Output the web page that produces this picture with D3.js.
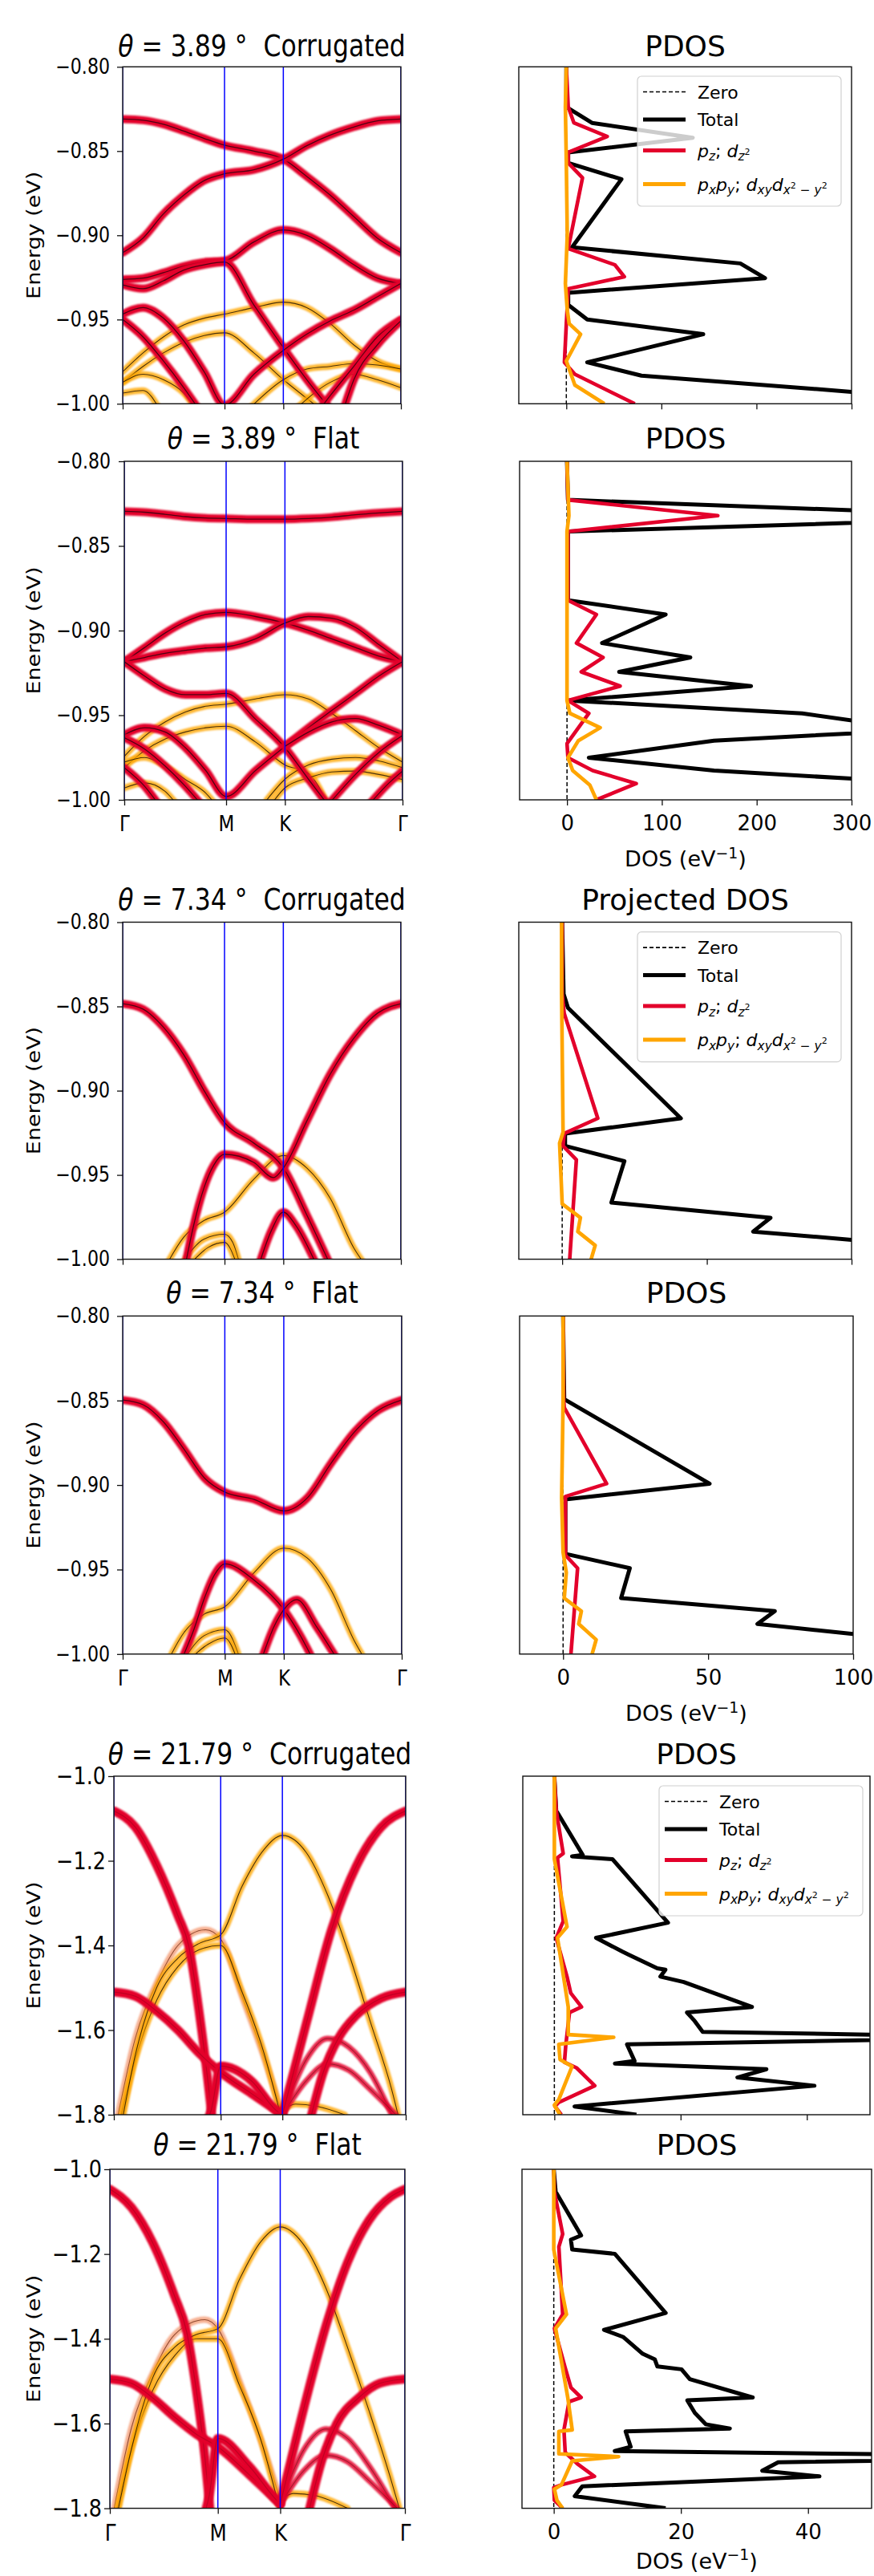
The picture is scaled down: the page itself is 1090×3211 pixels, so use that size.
<!DOCTYPE html>
<html><head><meta charset="utf-8">
<script src="https://cdn.jsdelivr.net/npm/d3@7"></script>
<style>body{margin:0;background:#fff} text{font-family:"DejaVu Sans",sans-serif;fill:#000}</style>
</head><body><script>
// ---------------- DATA ----------------
const kTicks=[0,0.5,0.7887,1.366];
const kLabels=["Γ","M","K","Γ"];
const thetas=["3.89","3.89","7.34","7.34","21.79","21.79"];
const structures=["Corrugated","Flat","Corrugated","Flat","Corrugated","Flat"];
const pdosTitles=["PDOS","PDOS","Projected DOS","PDOS","PDOS","PDOS"];
const eTicksSmall=[-1.0,-0.95,-0.9,-0.85,-0.8];
const eTicksLarge=[-1.8,-1.6,-1.4,-1.2,-1.0];
const dosTicks389=[0,100,200,300];
const dosTicks734=[0,50,100];
const dosTicks2179=[0,20,40];
const legendNames=["Zero","Total","pz","pxpy"];

// bands: c = orbital character (r: pz/dz2, o: px py/dxy dx2-y2, s: mixed), p = [k, E(eV)]
const bands389c=[
 {c:"o",p:[[0,-0.9810],[0.1,-0.9698],[0.2,-0.9603],[0.3,-0.9532],[0.4,-0.9492],[0.5,-0.9468],[0.644,-0.9429],[0.789,-0.9397],[0.904,-0.9429],[1.019,-0.9524],[1.135,-0.9651],[1.25,-0.9746],[1.366,-0.9794]]},
 {c:"o",p:[[0,-0.9873],[0.1,-0.9778],[0.2,-0.9698],[0.3,-0.9635],[0.4,-0.9595],[0.5,-0.9579],[0.644,-0.9698],[0.789,-0.9857],[0.904,-0.9968],[1.0,-1.006]]},
 {c:"o",p:[[0.62,-1.003],[0.789,-0.9857],[0.904,-0.9794],[1.019,-0.9778],[1.135,-0.9762],[1.25,-0.977],[1.366,-0.9794]]},
 {c:"o",p:[[0.85,-1.003],[1.019,-0.9873],[1.135,-0.9825],[1.25,-0.9857],[1.366,-0.9905]]},
 {c:"o",p:[[0,-0.9873],[0.1,-0.9825],[0.2,-0.9857],[0.3,-0.9937],[0.36,-1.003]]},
 {c:"o",p:[[0,-0.9937],[0.1,-0.9921],[0.18,-1.003]]},
 {c:"r",p:[[0,-0.8310],[0.1,-0.8317],[0.2,-0.8341],[0.3,-0.8381],[0.4,-0.8425],[0.5,-0.8465],[0.644,-0.8500],[0.789,-0.8548],[0.904,-0.8651],[1.019,-0.8762],[1.135,-0.8889],[1.25,-0.9016],[1.366,-0.9103]]},
 {c:"r",p:[[0,-0.9103],[0.1,-0.9016],[0.2,-0.8873],[0.3,-0.8762],[0.4,-0.8675],[0.5,-0.8635],[0.644,-0.8611],[0.789,-0.8548],[0.904,-0.8468],[1.019,-0.8405],[1.135,-0.8357],[1.25,-0.8321],[1.366,-0.8310]]},
 {c:"r",p:[[0,-0.9262],[0.1,-0.9254],[0.2,-0.9222],[0.3,-0.9183],[0.4,-0.9159],[0.5,-0.9151],[0.644,-0.9040],[0.789,-0.8968],[0.904,-0.9000],[1.019,-0.9079],[1.135,-0.9175],[1.25,-0.9254],[1.366,-0.9286]]},
 {c:"r",p:[[0,-0.9294],[0.1,-0.9317],[0.2,-0.9270],[0.3,-0.9206],[0.4,-0.9175],[0.5,-0.9159],[0.644,-0.9413],[0.789,-0.9667],[0.904,-0.9857],[1.019,-1.0032]]},
 {c:"r",p:[[0,-0.9468],[0.1,-0.9429],[0.2,-0.9492],[0.3,-0.9627],[0.4,-0.9810],[0.5,-1.0008],[0.644,-0.9825],[0.789,-0.9683],[0.904,-0.9587],[1.019,-0.9508],[1.135,-0.9444],[1.25,-0.9365],[1.366,-0.9286]]},
 {c:"r",p:[[0,-0.9500],[0.1,-0.9603],[0.2,-0.9746],[0.3,-0.9905],[0.4,-1.0079]]},
 {c:"r",p:[[0.97,-1.003],[1.019,-0.9952],[1.135,-0.9778],[1.25,-0.9603],[1.366,-0.9500]]},
 {c:"r",p:[[1.08,-1.005],[1.135,-0.9857],[1.25,-0.9651],[1.366,-0.9508]]}
];
const bands389f=[
 {c:"o",p:[[0,-0.9743],[0.1,-0.9624],[0.2,-0.9540],[0.3,-0.9481],[0.4,-0.9447],[0.5,-0.9435],[0.644,-0.9404],[0.789,-0.9379],[0.904,-0.9404],[1.019,-0.9489],[1.135,-0.9591],[1.25,-0.9692],[1.366,-0.9777]]},
 {c:"o",p:[[0,-0.9810],[0.1,-0.9709],[0.2,-0.9641],[0.3,-0.9599],[0.4,-0.9574],[0.5,-0.9565],[0.644,-0.9658],[0.789,-0.9794],[0.904,-0.9844],[1.0,-1.003]]},
 {c:"o",p:[[0.7,-1.0],[0.789,-0.9878],[0.904,-0.9794],[1.019,-0.9760],[1.135,-0.9750],[1.25,-0.9770],[1.366,-0.9810]]},
 {c:"o",p:[[0.72,-1.003],[0.789,-0.9929],[0.904,-0.9870],[1.019,-0.9835],[1.135,-0.9830],[1.25,-0.9850],[1.366,-0.9880]]},
 {c:"o",p:[[0,-0.9777],[0.1,-0.9750],[0.2,-0.9800],[0.3,-0.9880],[0.4,-0.9960],[0.45,-1.003]]},
 {c:"o",p:[[0,-0.9930],[0.1,-0.9900],[0.2,-0.9950],[0.26,-1.003]]},
 {c:"r",p:[[0,-0.8296],[0.1,-0.8301],[0.2,-0.8313],[0.3,-0.8327],[0.4,-0.8335],[0.5,-0.8338],[0.644,-0.8342],[0.789,-0.8342],[0.904,-0.8338],[1.019,-0.8330],[1.135,-0.8316],[1.25,-0.8305],[1.366,-0.8296]]},
 {c:"r",p:[[0,-0.9184],[0.1,-0.9100],[0.2,-0.9015],[0.3,-0.8948],[0.4,-0.8905],[0.5,-0.8893],[0.644,-0.8917],[0.789,-0.8956],[0.904,-0.8998],[1.019,-0.9049],[1.135,-0.9100],[1.25,-0.9151],[1.366,-0.9184]]},
 {c:"r",p:[[0,-0.9184],[0.1,-0.9159],[0.2,-0.9134],[0.3,-0.9117],[0.4,-0.9103],[0.5,-0.9096],[0.644,-0.9049],[0.789,-0.8956],[0.904,-0.8917],[1.019,-0.8927],[1.135,-0.8981],[1.25,-0.9083],[1.366,-0.9184]]},
 {c:"r",p:[[0,-0.9184],[0.1,-0.9269],[0.2,-0.9345],[0.3,-0.9379],[0.4,-0.9379],[0.5,-0.9371],[0.644,-0.9523],[0.789,-0.9692],[0.904,-0.9878],[1.0,-1.003]]},
 {c:"r",p:[[0,-0.9616],[0.1,-0.9574],[0.2,-0.9599],[0.3,-0.9692],[0.4,-0.9827],[0.5,-0.9980],[0.644,-0.9827],[0.789,-0.9684],[0.904,-0.9574],[1.019,-0.9472],[1.135,-0.9371],[1.25,-0.9269],[1.366,-0.9184]]},
 {c:"r",p:[[0.789,-0.9684],[0.904,-0.9600],[1.019,-0.9540],[1.135,-0.9520],[1.25,-0.9560],[1.366,-0.9616]]},
 {c:"r",p:[[0,-0.9633],[0.1,-0.9700],[0.2,-0.9800],[0.3,-0.9920],[0.38,-1.003]]},
 {c:"r",p:[[0,-0.9810],[0.1,-0.9920],[0.17,-1.003]]},
 {c:"r",p:[[1.0,-1.003],[1.135,-0.985],[1.25,-0.972],[1.366,-0.962]]},
 {c:"r",p:[[1.2,-1.003],[1.3,-0.990],[1.366,-0.983]]}
];
const bands734c=[
 {c:"o",p:[[0.2,-1.0066],[0.3,-0.9869],[0.4,-0.9770],[0.5,-0.9721],[0.644,-0.9525],[0.789,-0.9385],[0.904,-0.9459],[1.019,-0.9639],[1.135,-0.9934],[1.2,-1.005]]},
 {c:"o",p:[[0.29,-1.003],[0.4,-0.988],[0.5,-0.9852],[0.54,-0.990],[0.575,-1.003]]},
 {c:"o",p:[[0.33,-1.003],[0.42,-0.993],[0.5,-0.9900],[0.56,-1.003]]},
 {c:"r",p:[[0,-0.8484],[0.1,-0.8516],[0.2,-0.8623],[0.3,-0.8787],[0.4,-0.9000],[0.5,-0.9189],[0.644,-0.9311],[0.789,-0.9459],[0.904,-0.9738],[1.019,-1.0033]]},
 {c:"r",p:[[0.31,-1.002],[0.3415,-0.9836],[0.4,-0.9574],[0.4466,-0.9443],[0.5,-0.9377],[0.644,-0.9426],[0.74,-0.9516],[0.789,-0.9459],[0.904,-0.9180],[1.019,-0.8902],[1.135,-0.8689],[1.25,-0.8541],[1.366,-0.8484]]},
 {c:"r",p:[[0.67,-1.003],[0.73,-0.983],[0.789,-0.9721],[0.85,-0.980],[0.95,-1.003]]}
];
const bands734f=[
 {c:"o",p:[[0.2,-1.0093],[0.3,-0.9873],[0.4,-0.9763],[0.5,-0.9720],[0.644,-0.9517],[0.789,-0.9373],[0.904,-0.9432],[1.019,-0.9619],[1.135,-0.9924],[1.2,-1.006]]},
 {c:"o",p:[[0.30,-1.003],[0.4,-0.989],[0.5,-0.9856],[0.575,-1.003]]},
 {c:"o",p:[[0.33,-1.003],[0.42,-0.994],[0.5,-0.9905],[0.56,-1.003]]},
 {c:"r",p:[[0,-0.8497],[0.1,-0.8525],[0.2,-0.8627],[0.3,-0.8788],[0.4,-0.8958],[0.5,-0.9042],[0.644,-0.9085],[0.789,-0.9153],[0.904,-0.9076],[1.019,-0.8873],[1.135,-0.8686],[1.25,-0.8559],[1.366,-0.8497]]},
 {c:"r",p:[[0.29,-1.003],[0.35,-0.985],[0.4,-0.967],[0.45,-0.953],[0.5,-0.9466],[0.644,-0.9563],[0.789,-0.9737],[0.9,-0.9958],[0.93,-1.003]]},
 {c:"r",p:[[0.68,-1.003],[0.74,-0.984],[0.789,-0.9737],[0.852,-0.9678],[0.95,-0.984],[1.05,-1.003]]}
];
const bands2179c=[
 {c:"s",p:[[0.02,-1.80],[0.1,-1.62],[0.2,-1.49],[0.3,-1.40],[0.43,-1.363],[0.5,-1.385],[0.6,-1.52],[0.7,-1.66],[0.789,-1.80]]},
 {c:"o",p:[[0.035,-1.80],[0.1,-1.67],[0.2,-1.53],[0.3,-1.45],[0.4,-1.41],[0.5,-1.40],[0.6,-1.51],[0.7,-1.65],[0.78,-1.80]]},
 {c:"o",p:[[0.044,-1.80],[0.1,-1.66],[0.2,-1.50],[0.3,-1.43],[0.4,-1.395],[0.5,-1.375],[0.6,-1.26],[0.7,-1.175],[0.789,-1.14],[0.9,-1.18],[1.0,-1.28],[1.1,-1.42],[1.2,-1.58],[1.3,-1.74],[1.33,-1.80]]},
 {c:"o",p:[[0.789,-1.79],[0.85,-1.775],[0.95,-1.78],[1.08,-1.80]]},
 {c:"r",p:[[0,-1.082],[0.1,-1.12],[0.2,-1.21],[0.3,-1.33],[0.35,-1.40],[0.4,-1.56],[0.44,-1.72],[0.46,-1.81]]},
 {c:"r",p:[[0,-1.51],[0.1,-1.52],[0.2,-1.555],[0.3,-1.60],[0.4,-1.655],[0.5,-1.70],[0.644,-1.75],[0.789,-1.80]]},
 {c:"r",p:[[0.44,-1.81],[0.455,-1.79],[0.5,-1.685],[0.644,-1.72],[0.76,-1.79],[0.789,-1.80]]},
 {c:"r",p:[[0.789,-1.80],[0.904,-1.578],[1.019,-1.362],[1.135,-1.212],[1.25,-1.121],[1.366,-1.082]]},
 {c:"r",p:[[0.92,-1.81],[0.98,-1.70],[1.05,-1.62],[1.135,-1.565],[1.25,-1.525],[1.366,-1.51]]},
 {c:"t",p:[[0.79,-1.80],[0.9,-1.67],[1.0,-1.62],[1.1,-1.64],[1.2,-1.70],[1.3,-1.80]]},
 {c:"t",p:[[0.79,-1.80],[0.9,-1.72],[1.0,-1.68],[1.1,-1.695],[1.2,-1.74],[1.32,-1.80]]}
];
const bands2179f=[
 {c:"s",p:[[0.02,-1.80],[0.1,-1.61],[0.2,-1.48],[0.3,-1.39],[0.44,-1.355],[0.5,-1.376],[0.6,-1.50],[0.7,-1.64],[0.789,-1.78]]},
 {c:"o",p:[[0.035,-1.80],[0.1,-1.66],[0.2,-1.52],[0.3,-1.44],[0.4,-1.40],[0.5,-1.40],[0.6,-1.51],[0.7,-1.64],[0.78,-1.79]]},
 {c:"o",p:[[0.04,-1.80],[0.1,-1.66],[0.2,-1.49],[0.3,-1.42],[0.4,-1.39],[0.5,-1.376],[0.6,-1.26],[0.7,-1.17],[0.789,-1.136],[0.9,-1.18],[1.0,-1.28],[1.1,-1.42],[1.2,-1.57],[1.3,-1.73],[1.34,-1.80]]},
 {c:"o",p:[[0.789,-1.78],[0.85,-1.765],[0.95,-1.77],[1.1,-1.80]]},
 {c:"r",p:[[0,-1.047],[0.1,-1.09],[0.2,-1.175],[0.3,-1.30],[0.355,-1.382],[0.4,-1.52],[0.44,-1.68],[0.465,-1.81]]},
 {c:"r",p:[[0,-1.495],[0.1,-1.505],[0.2,-1.54],[0.3,-1.585],[0.4,-1.625],[0.5,-1.655],[0.644,-1.72],[0.789,-1.79]]},
 {c:"r",p:[[0.44,-1.81],[0.46,-1.77],[0.5,-1.635],[0.644,-1.70],[0.77,-1.78],[0.789,-1.79]]},
 {c:"r",p:[[0.789,-1.79],[0.9,-1.56],[1.0,-1.37],[1.1,-1.22],[1.2,-1.12],[1.3,-1.065],[1.366,-1.047]]},
 {c:"r",p:[[0.92,-1.81],[0.98,-1.69],[1.05,-1.60],[1.15,-1.54],[1.25,-1.505],[1.366,-1.495]]},
 {c:"t",p:[[0.79,-1.79],[0.9,-1.66],[1.0,-1.613],[1.1,-1.635],[1.2,-1.70],[1.32,-1.80]]},
 {c:"t",p:[[0.79,-1.79],[0.9,-1.71],[1.0,-1.675],[1.1,-1.69],[1.2,-1.735],[1.33,-1.80]]}
];

// PDOS: [E (eV), DOS (1/eV)]
const total389c=[[-0.8,0],[-0.8238,0],[-0.8333,27],[-0.8421,133],[-0.8508,2],[-0.8571,2],[-0.8667,58],[-0.9071,6],[-0.9167,183],[-0.9254,209],[-0.9341,2],[-0.9413,2],[-0.95,22],[-0.9587,144],[-0.9754,22],[-0.9833,79],[-0.9929,300],[-1.0,460]];
const pz389c=[[-0.8,0],[-0.8238,2],[-0.8333,8],[-0.8413,43],[-0.8508,2],[-0.8571,2],[-0.8659,17],[-0.9079,2],[-0.9175,51],[-0.9246,61],[-0.9318,2],[-0.9524,0],[-0.9754,-2],[-0.9825,9],[-1.0,72]];
const pxy389c=[[-0.8,0],[-0.8238,-1],[-0.8571,0],[-0.9,1],[-0.9286,-1],[-0.9444,1],[-0.9524,3],[-0.9587,15],[-0.9746,0],[-0.9889,9],[-1.0,40]];
const total389f=[[-0.8,0],[-0.8228,1],[-0.8330,500],[-0.8415,1],[-0.8821,1],[-0.8905,104],[-0.9074,37],[-0.9159,130],[-0.9244,55],[-0.9328,194],[-0.9413,1],[-0.9489,248],[-0.9587,369],[-0.9650,155],[-0.9751,23],[-0.9827,155],[-1.0,680]];
const pz389f=[[-0.8,0],[-0.8228,1],[-0.8321,159],[-0.8415,1],[-0.8821,1],[-0.8905,31],[-0.9074,10],[-0.9159,38],[-0.9244,15],[-0.9328,56],[-0.9413,1],[-0.9489,23],[-0.9668,0],[-0.9751,1],[-0.9827,27],[-0.9904,73],[-1.0,31]];
const pxy389f=[[-0.8,0],[-0.8321,2],[-0.8415,0],[-0.9413,0],[-0.9489,3],[-0.9574,35],[-0.9650,12],[-0.9751,1],[-0.9827,6],[-0.9912,24],[-1.0,31]];
const total734c=[[-0.8,0],[-0.8426,0.5],[-0.8508,2],[-0.9164,41],[-0.9254,1],[-0.9328,1],[-0.9418,21.5],[-0.9664,17],[-0.9754,72],[-0.9836,66],[-0.9885,100],[-1.0,180]];
const pz734c=[[-0.8,0],[-0.8426,0],[-0.8541,0.7],[-0.9164,12.3],[-0.9254,0.7],[-0.9328,0.3],[-0.9410,4.9],[-1.0,2.6]];
const pxy734c=[[-0.8,-0.2],[-0.8426,-0.2],[-0.9246,0.3],[-0.9311,-0.9],[-0.9672,0],[-0.9754,6.3],[-0.9836,5.4],[-0.9918,11.4],[-1.0,10]];
const total734f=[[-0.8,0],[-0.8492,0.4],[-0.8992,50.5],[-0.9085,0.8],[-0.9407,0.8],[-0.9492,23],[-0.9669,20],[-0.9746,73],[-0.9822,67],[-0.9881,100],[-1.0,166]];
const pz734f=[[-0.8,0],[-0.8492,0.2],[-0.8542,0.4],[-0.8992,15],[-0.9068,0.8],[-0.9415,0.8],[-0.9492,5],[-1.0,2.7]];
const pxy734f=[[-0.8,0],[-0.8492,0],[-0.9076,-0.5],[-0.9398,0],[-0.9517,1.1],[-0.9669,0.4],[-0.9746,6.3],[-0.9822,5.4],[-0.9915,11.4],[-1.0,10]];
const total2179c=[[-1.0,0],[-1.0816,0.3],[-1.1862,4.5],[-1.1894,2.8],[-1.1960,9.2],[-1.3462,18],[-1.3821,6.6],[-1.4148,10.8],[-1.4213,11.7],[-1.4540,16.3],[-1.4572,17.6],[-1.4736,16.8],[-1.4866,20.5],[-1.5454,31.3],[-1.5585,21],[-1.5780,22.2],[-1.6042,23.5],[-1.6172,76],[-1.6336,11.5],[-1.6728,12.7],[-1.6793,9.6],[-1.6924,33.6],[-1.7120,29],[-1.7315,41.2],[-1.7805,3.2],[-1.8,13]];
const pz2179c=[[-1.0,0],[-1.0816,0.3],[-1.1829,1.4],[-1.1927,0.5],[-1.3429,1.4],[-1.3821,0.3],[-1.4736,2],[-1.5127,2.6],[-1.5454,4.3],[-1.5585,2.4],[-1.6369,1.8],[-1.6761,1.6],[-1.6891,3.5],[-1.7315,6.4],[-1.7707,0.7],[-1.7805,0.1],[-1.8,1.1]];
const pxy2179c=[[-1.0,0],[-1.1960,0],[-1.3560,2],[-1.3821,0.5],[-1.5454,2.2],[-1.6107,2.2],[-1.6172,9.4],[-1.6336,0.7],[-1.6695,0.9],[-1.6859,2.8],[-1.7642,0.7],[-1.7772,0],[-1.8,0.9]];
const total2179f=[[-1.0,0],[-1.0532,0.3],[-1.1562,4.3],[-1.1662,2.7],[-1.1895,2.9],[-1.1995,9.6],[-1.3391,17.6],[-1.3790,7.9],[-1.3956,10.9],[-1.4355,14],[-1.4488,15.9],[-1.4654,16.3],[-1.4721,20.1],[-1.4953,21.4],[-1.5386,31.3],[-1.5452,21],[-1.5751,22.2],[-1.6017,23.9],[-1.6117,27.7],[-1.6184,11.3],[-1.6549,12.1],[-1.6649,9.6],[-1.6795,90],[-1.6915,35.3],[-1.7114,32.8],[-1.7247,41.8],[-1.7480,4.5],[-1.7713,3.3],[-1.8,17.6]];
const pz2179f=[[-1.0,0],[-1.0532,0.1],[-1.1529,1.4],[-1.1828,0.8],[-1.3424,1.4],[-1.3757,0.1],[-1.4688,1.8],[-1.5153,2.7],[-1.5386,4.3],[-1.5485,2.4],[-1.6150,1.6],[-1.6682,1.8],[-1.6948,3.7],[-1.7247,6.4],[-1.7447,1.2],[-1.7513,0],[-1.7812,0.1],[-1.8,1.4]];
const pxy2179f=[[-1.0,0],[-1.1895,0],[-1.3424,2],[-1.3757,0.3],[-1.5386,2.2],[-1.6150,2.9],[-1.6184,0.8],[-1.6715,0.8],[-1.6782,10.2],[-1.6882,2.9],[-1.7447,1.2],[-1.7547,0.1],[-1.7812,0.5],[-1.8,1.4]];

// ---------------- LAYOUT / STYLE ----------------
const panels=[
 {bands:bands389c,tot:total389c,pz:pz389c,pxy:pxy389c,bx:[153,500],px:[647,1062],y:[83.3,503.3],titleY:70,edom:[-1,-0.8],et:eTicksSmall,ef:".2f",dd:[-50,300],dt:dosTicks389,lab:false,leg:[795,95],tfs:26,gap:16,big:false,dl:83},
 {bands:bands389f,tot:total389f,pz:pz389f,pxy:pxy389f,bx:[155,502],px:[648,1062],y:[575,997],titleY:559,edom:[-1,-0.8],et:eTicksSmall,ef:".2f",dd:[-50,300],dt:dosTicks389,lab:true,leg:null,tfs:26,gap:17,big:false,dl:83},
 {bands:bands734c,tot:total734c,pz:pz734c,pxy:pxy734c,bx:[153,500],px:[647,1062],y:[1149.5,1569.6],titleY:1134,edom:[-1,-0.8],et:eTicksSmall,ef:".2f",dd:[-15,100],dt:dosTicks734,lab:false,leg:[795,1161.6],tfs:26,gap:16,big:false,dl:83},
 {bands:bands734f,tot:total734f,pz:pz734f,pxy:pxy734f,bx:[153,501],px:[648,1064],y:[1640.4,2061.8],titleY:1624,edom:[-1,-0.8],et:eTicksSmall,ef:".2f",dd:[-15,100],dt:dosTicks734,lab:true,leg:null,tfs:26,gap:16,big:false,dl:83},
 {bands:bands2179c,tot:total2179c,pz:pz2179c,pxy:pxy2179c,bx:[142,506],px:[652,1085],y:[2214,2636],titleY:2198.5,edom:[-1.8,-1.0],et:eTicksLarge,ef:".1f",dd:[-5,50],dt:dosTicks2179,lab:false,leg:[822,2226],tfs:30,gap:10,big:true,dl:83},
 {bands:bands2179f,tot:total2179f,pz:pz2179f,pxy:pxy2179f,bx:[137,505],px:[651,1087],y:[2704,3126.6],titleY:2686,edom:[-1.8,-1.0],et:eTicksLarge,ef:".1f",dd:[-5,50],dt:dosTicks2179,lab:true,leg:null,tfs:30,gap:10,big:true,dl:75}
];
const RED="#e3002b", ORANGE="#ffa500";
const bandStyle={
 r:{halo:RED,w:10,op:1,core:"#3a000e",cw:1.3,cop:0.85},
 R:{halo:RED,w:11,op:1,core:"#7a0018",cw:1.2,cop:0.35},
 o:{halo:ORANGE,w:8,op:0.8,core:"#1a1000",cw:1.1,cop:0.8},
 s:{halo:"#f5a27f",w:8,op:0.85,core:"#6e2a10",cw:1.1,cop:0.75},
 t:{halo:RED,w:7,op:0.85,core:"#5a1a1a",cw:1,cop:0.6}
};
const SX=0.85; // horizontal squeeze of the left column

const svg=d3.select("body").append("svg").attr("width",1090).attr("height",3211).style("display","block");
const defs=svg.append("defs");
defs.append("filter").attr("id","soft").attr("filterUnits","userSpaceOnUse")
 .attr("x",0).attr("y",0).attr("width",1090).attr("height",3211)
 .append("feGaussianBlur").attr("stdDeviation",1.2);

function rich(sel,segs,size){
  let prev=0;
  segs.forEach(s=>{
    const sh=(s.h||0)*size;
    sel.append("tspan").text(s.t).attr("font-size",size*(s.z||1))
      .attr("font-style",s.i?"italic":null).attr("dy",sh-prev);
    prev=sh;
  });
}

function bandPanel(L,i){
  const g=svg.append("g");
  const x=d3.scaleLinear().domain([0,kTicks[3]]).range(L.bx);
  const y=d3.scaleLinear().domain(L.edom).range([L.y[1],L.y[0]]);
  const cid="cb"+i;
  defs.append("clipPath").attr("id",cid).append("rect")
    .attr("x",L.bx[0]).attr("y",L.y[0]).attr("width",L.bx[1]-L.bx[0]).attr("height",L.y[1]-L.y[0]);
  const inner=g.append("g").attr("clip-path",`url(#${cid})`);
  const line=d3.line().x(d=>x(d[0])).y(d=>y(d[1])).curve(d3.curveMonotoneX);
  ["s","o","t","r"].forEach(c=>{
    L.bands.filter(b=>b.c===c).forEach(b=>{
      const st=bandStyle[(c==="r"&&L.big)?"R":c];
      inner.append("path").attr("d",line(b.p)).attr("fill","none")
        .attr("stroke",st.halo).attr("stroke-width",st.w).attr("stroke-opacity",st.op)
        .attr("stroke-linecap","round").attr("filter","url(#soft)");
      inner.append("path").attr("d",line(b.p)).attr("fill","none")
        .attr("stroke",st.core).attr("stroke-width",st.cw).attr("stroke-opacity",st.cop);
    });
  });
  g.append("rect").attr("x",L.bx[0]).attr("y",L.y[0]).attr("width",L.bx[1]-L.bx[0]).attr("height",L.y[1]-L.y[0])
    .attr("fill","none").attr("stroke","#111").attr("stroke-width",1.4);
  inner.selectAll("line.sym").data(kTicks).join("line")
    .attr("x1",d=>x(d)).attr("x2",d=>x(d)).attr("y1",L.y[0]).attr("y2",L.y[1])
    .attr("stroke","#0000ff").attr("stroke-width",1.5);
  const ya=d3.axisLeft(y).tickValues(L.et).tickFormat(d3.format(L.ef)).tickSize(7).tickPadding(L.gap/SX-7);
  const yg=g.append("g").attr("transform",`translate(${L.bx[0]},0)`).call(ya);
  yg.select(".domain").remove();
  yg.selectAll("line").attr("stroke","#111").attr("stroke-width",1.3);
  yg.selectAll("text").attr("font-size",L.tfs).attr("font-family","DejaVu Sans").attr("fill","#000")
    .attr("transform",`scale(${SX},1)`);
  const xa=d3.axisBottom(x).tickValues(kTicks).tickFormat((d,j)=>L.lab?kLabels[j]:"").tickSize(7).tickPadding(13);
  const xg=g.append("g").attr("transform",`translate(0,${L.y[1]})`).call(xa);
  xg.select(".domain").remove();
  xg.selectAll("line").attr("stroke","#111").attr("stroke-width",1.3);
  xg.selectAll("text").attr("font-size",L.big?29:27).attr("font-family","DejaVu Sans").attr("fill","#000")
    .attr("transform",`scale(${SX},1)`);
  if(!L.lab) xg.selectAll("text").remove();
  const cx=(L.bx[0]+L.bx[1])/2;
  const tt=g.append("text").attr("text-anchor","middle").style("white-space","pre")
    .attr("transform",`translate(${cx},${L.titleY}) scale(${SX},1)`);
  rich(tt,[{t:"θ",i:1},{t:" = "+thetas[i]+" °  "+structures[i]}],37);
  const cy=(L.y[0]+L.y[1])/2;
  g.append("text").attr("text-anchor","middle").attr("font-size",27)
    .attr("transform",`translate(50,${cy}) scale(${SX},1) rotate(-90)`).text("Energy (eV)");
}

function dosPanel(L,i){
  const g=svg.append("g");
  const x=d3.scaleLinear().domain(L.dd).range(L.px);
  const y=d3.scaleLinear().domain(L.edom).range([L.y[1],L.y[0]]);
  const cid="cd"+i;
  defs.append("clipPath").attr("id",cid).append("rect")
    .attr("x",L.px[0]).attr("y",L.y[0]).attr("width",L.px[1]-L.px[0]).attr("height",L.y[1]-L.y[0]);
  const inner=g.append("g").attr("clip-path",`url(#${cid})`);
  inner.append("line").attr("x1",x(0)).attr("x2",x(0)).attr("y1",L.y[0]).attr("y2",L.y[1])
    .attr("stroke","#000").attr("stroke-width",1.5).attr("stroke-dasharray","5,3");
  const line=d3.line().x(d=>x(d[1])).y(d=>y(d[0]));
  [[L.tot,"#000",5],[L.pz,RED,4.6],[L.pxy,ORANGE,4.6]].forEach(([dat,col,w])=>{
    inner.append("path").attr("d",line(dat)).attr("fill","none").attr("stroke",col)
      .attr("stroke-width",w).attr("stroke-linejoin","round");
  });
  g.append("rect").attr("x",L.px[0]).attr("y",L.y[0]).attr("width",L.px[1]-L.px[0]).attr("height",L.y[1]-L.y[0])
    .attr("fill","none").attr("stroke","#111").attr("stroke-width",1.4);
  const xa=d3.axisBottom(x).tickValues(L.dt).tickFormat(d=>L.lab?d3.format("d")(d):"").tickSize(7).tickPadding(13);
  const xg=g.append("g").attr("transform",`translate(0,${L.y[1]})`).call(xa);
  xg.select(".domain").remove();
  xg.selectAll("line").attr("stroke","#111").attr("stroke-width",1.3);
  xg.selectAll("text").attr("font-size",26).attr("font-family","DejaVu Sans").attr("fill","#000");
  if(!L.lab) xg.selectAll("text").remove();
  const cx=(L.px[0]+L.px[1])/2;
  g.append("text").attr("x",cx).attr("y",L.titleY).attr("text-anchor","middle").attr("font-size",36).text(pdosTitles[i]);
  if(L.lab){
    const t=g.append("text").attr("x",cx).attr("y",L.y[1]+L.dl).attr("text-anchor","middle");
    rich(t,[{t:"DOS (eV"},{t:"−1",z:0.7,h:-0.38},{t:")"}],27);
  }
  if(L.leg){
    const [lx,ly]=L.leg;
    const lg=g.append("g");
    lg.append("rect").attr("x",lx).attr("y",ly).attr("width",254).attr("height",162).attr("rx",5)
      .attr("fill","#fff").attr("fill-opacity",0.8).attr("stroke","#d0d0d0").attr("stroke-width",1.2);
    const rows=[19.5,54,92.5,134.5];
    const sty=[["#000",1.6,"5,3"],["#000",5,null],[RED,5,null],[ORANGE,5,null]];
    legendNames.forEach((nm,j)=>{
      const yy=ly+rows[j];
      lg.append("line").attr("x1",lx+7).attr("x2",lx+60).attr("y1",yy).attr("y2",yy)
        .attr("stroke",sty[j][0]).attr("stroke-width",sty[j][1]).attr("stroke-dasharray",sty[j][2]);
      const t=lg.append("text").attr("x",lx+75).attr("y",yy+8).style("white-space","pre");
      const F=22;
      if(nm==="Zero"||nm==="Total"){ t.attr("font-size",F).text(nm); }
      else if(nm==="pz"){
        rich(t,[{t:"p",i:1},{t:"z",i:1,z:0.7,h:0.22},{t:"; "},{t:"d",i:1},{t:"z",i:1,z:0.7,h:0.22},{t:"2",z:0.5,h:-0.12}],F);
      } else {
        rich(t,[{t:"p",i:1},{t:"x",i:1,z:0.7,h:0.22},{t:"p",i:1},{t:"y",i:1,z:0.7,h:0.22},{t:"; "},{t:"d",i:1},{t:"xy",i:1,z:0.7,h:0.22},{t:"d",i:1},{t:"x",i:1,z:0.7,h:0.22},{t:"2",z:0.5,h:-0.12},{t:" − ",z:0.7,h:0.22},{t:"y",i:1,z:0.7,h:0.22},{t:"2",z:0.5,h:-0.12}],F);
      }
    });
  }
}

panels.forEach((L,i)=>{bandPanel(L,i);dosPanel(L,i);});
</script></body></html>
